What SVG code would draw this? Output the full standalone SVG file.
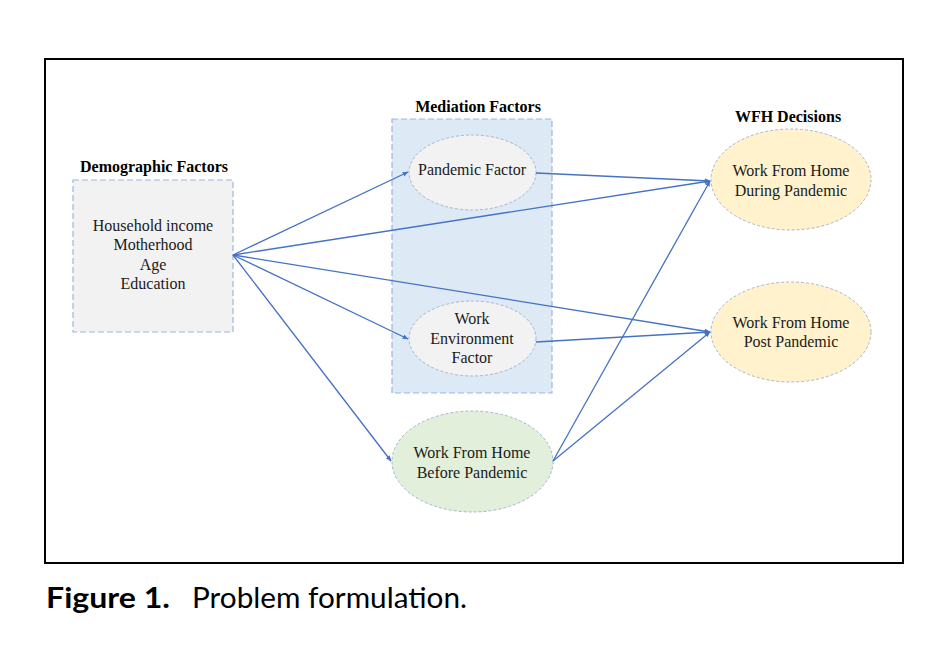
<svg xmlns="http://www.w3.org/2000/svg" width="938" height="672" viewBox="0 0 938 672">
<defs>
<style>
.t{font-family:"Liberation Serif","Times New Roman",serif;font-size:16px;fill:#1a1a1a;text-anchor:middle}
.h{font-family:"Liberation Serif","Times New Roman",serif;font-size:16px;font-weight:bold;fill:#000;text-anchor:middle}
.box{stroke:#9db5dc;stroke-width:1.2;stroke-dasharray:6,3}
.ell{stroke:#a8b6cc;stroke-width:1;stroke-dasharray:3,2}
.c line{stroke:#4472c4;stroke-width:1.3;marker-end:url(#ah)}
.cap{font-family:"Lato","Open Sans",sans-serif;font-size:28px;fill:#000}
</style>
<marker id="ah" viewBox="0 0 10 10" refX="9" refY="5" markerWidth="6" markerHeight="6" orient="auto" markerUnits="userSpaceOnUse">
<path d="M0,1 L10,5 L0,9 z" fill="#4472c4"/>
</marker>
</defs>
<rect width="938" height="672" fill="#fff"/>
<rect x="45" y="59" width="858" height="504" fill="none" stroke="#000" stroke-width="2"/>

<g id="demographic">
<text class="h" x="154" y="172">Demographic Factors</text>
<rect class="box" x="73" y="180" width="160" height="152" fill="#f2f2f2"/>
<text class="t" x="153" y="231">Household income</text>
<text class="t" x="153" y="250">Motherhood</text>
<text class="t" x="153" y="270">Age</text>
<text class="t" x="153" y="289">Education</text>
</g>

<g id="mediation">
<text class="h" x="478" y="112">Mediation Factors</text>
<rect class="box" x="392" y="119" width="160" height="274" fill="#dde9f5"/>
</g>

<g id="pandemic-factor">
<ellipse class="ell" cx="472.5" cy="172.5" rx="63.5" ry="37.5" fill="#f2f2f2"/>
<text class="t" x="472" y="175">Pandemic Factor</text>
</g>

<g id="work-environment">
<ellipse class="ell" cx="472.5" cy="338.5" rx="63.5" ry="37.5" fill="#f2f2f2"/>
<text class="t" x="472" y="324">Work</text>
<text class="t" x="472" y="344">Environment</text>
<text class="t" x="472" y="363">Factor</text>
</g>

<g id="wfh-decisions-label">
<text class="h" x="788" y="122">WFH Decisions</text>
</g>

<g id="wfh-during">
<ellipse class="ell" cx="791" cy="179.5" rx="80" ry="50.5" fill="#fff2cc"/>
<text class="t" x="791" y="176">Work From Home</text>
<text class="t" x="791" y="196">During Pandemic</text>
</g>

<g id="wfh-post">
<ellipse class="ell" cx="791" cy="332" rx="80" ry="50" fill="#fff2cc"/>
<text class="t" x="791" y="328">Work From Home</text>
<text class="t" x="791" y="347">Post Pandemic</text>
</g>

<g id="wfh-before">
<ellipse class="ell" cx="472.5" cy="461.5" rx="80.5" ry="50.5" fill="#e2efda"/>
<text class="t" x="472" y="458">Work From Home</text>
<text class="t" x="472" y="478">Before Pandemic</text>
</g>

<g id="connectors" class="c">
<line x1="233" y1="255" x2="408" y2="172"/>
<line x1="233" y1="255" x2="710" y2="181"/>
<line x1="233" y1="255" x2="710" y2="332"/>
<line x1="233" y1="255" x2="408" y2="339"/>
<line x1="233" y1="255" x2="391" y2="461"/>
<line x1="536" y1="173" x2="710" y2="181"/>
<line x1="536" y1="342" x2="710" y2="332"/>
<line x1="553" y1="461" x2="710" y2="181"/>
<line x1="553" y1="461" x2="710" y2="332"/>
</g>

<g id="caption">
<text class="cap" x="46" y="608"><tspan font-weight="bold" textLength="124" lengthAdjust="spacingAndGlyphs">Figure 1.</tspan><tspan x="192" textLength="275" lengthAdjust="spacingAndGlyphs">Problem formulation.</tspan></text>
</g>
</svg>
